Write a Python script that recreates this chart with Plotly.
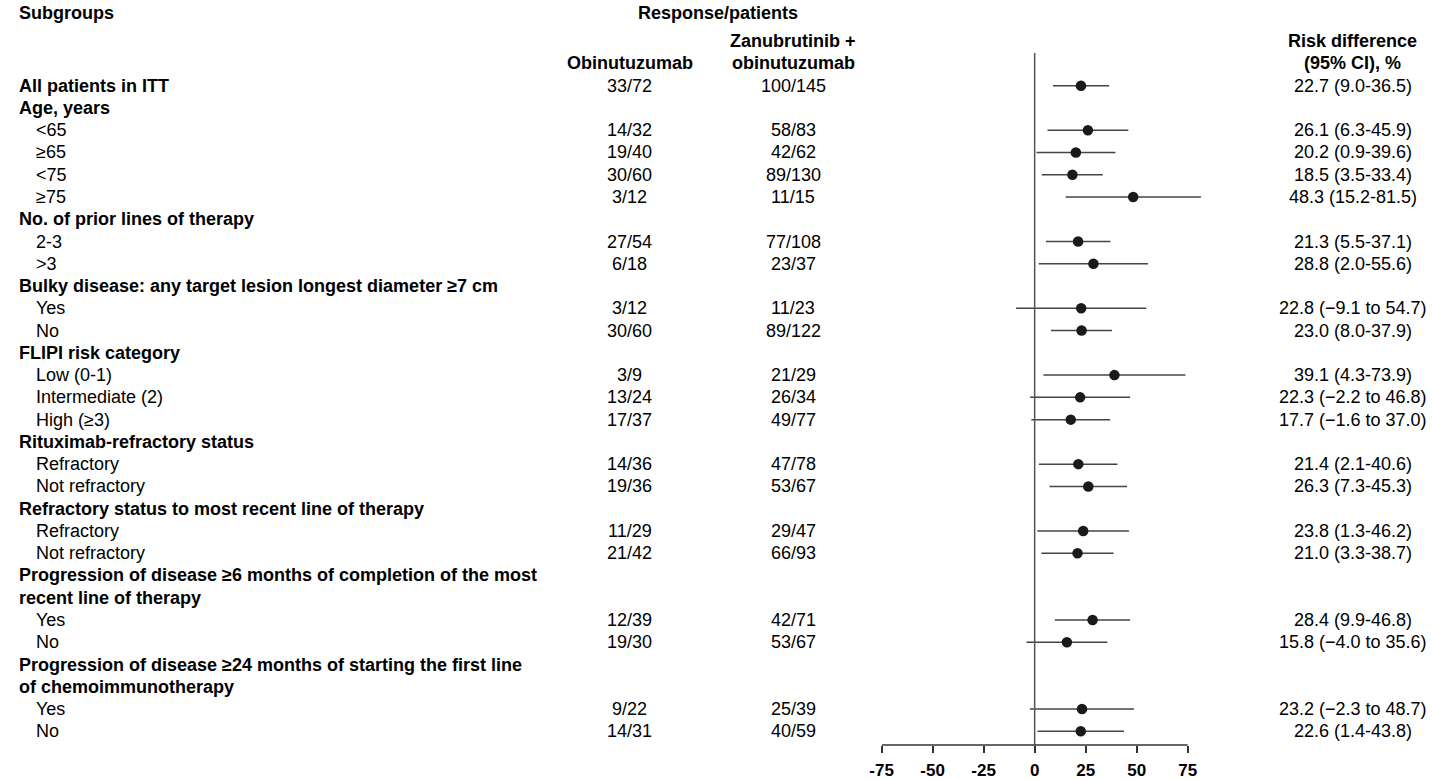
import plotly.graph_objects as go

# ---------------- data ----------------
labels = [
    "All patients in ITT", "Age, years", "<65", "≥65", "<75", "≥75",
    "No. of prior lines of therapy", "2-3", ">3",
    "Bulky disease: any target lesion longest diameter ≥7 cm", "Yes", "No",
    "FLIPI risk category", "Low (0-1)", "Intermediate (2)", "High (≥3)",
    "Rituximab-refractory status", "Refractory", "Not refractory",
    "Refractory status to most recent line of therapy", "Refractory", "Not refractory",
    "Progression of disease ≥6 months of completion of the most", "recent line of therapy",
    "Yes", "No",
    "Progression of disease ≥24 months of starting the first line", "of chemoimmunotherapy",
    "Yes", "No",
]
is_header = [
    True, True, False, False, False, False,
    True, False, False,
    True, False, False,
    True, False, False, False,
    True, False, False,
    True, False, False,
    True, True, False, False,
    True, True, False, False,
]
obin = ["33/72", "", "14/32", "19/40", "30/60", "3/12",
        "", "27/54", "6/18",
        "", "3/12", "30/60",
        "", "3/9", "13/24", "17/37",
        "", "14/36", "19/36",
        "", "11/29", "21/42",
        "", "", "12/39", "19/30",
        "", "", "9/22", "14/31"]
zanu = ["100/145", "", "58/83", "42/62", "89/130", "11/15",
        "", "77/108", "23/37",
        "", "11/23", "89/122",
        "", "21/29", "26/34", "49/77",
        "", "47/78", "53/67",
        "", "29/47", "66/93",
        "", "", "42/71", "53/67",
        "", "", "25/39", "40/59"]
rd_text = ["22.7 (9.0-36.5)", "", "26.1 (6.3-45.9)", "20.2 (0.9-39.6)", "18.5 (3.5-33.4)", "48.3 (15.2-81.5)",
           "", "21.3 (5.5-37.1)", "28.8 (2.0-55.6)",
           "", "22.8 (\u22129.1 to 54.7)", "23.0 (8.0-37.9)",
           "", "39.1 (4.3-73.9)", "22.3 (\u22122.2 to 46.8)", "17.7 (\u22121.6 to 37.0)",
           "", "21.4 (2.1-40.6)", "26.3 (7.3-45.3)",
           "", "23.8 (1.3-46.2)", "21.0 (3.3-38.7)",
           "", "", "28.4 (9.9-46.8)", "15.8 (\u22124.0 to 35.6)",
           "", "", "23.2 (\u22122.3 to 48.7)", "22.6 (1.4-43.8)"]
est = [22.7, None, 26.1, 20.2, 18.5, 48.3,
       None, 21.3, 28.8,
       None, 22.8, 23.0,
       None, 39.1, 22.3, 17.7,
       None, 21.4, 26.3,
       None, 23.8, 21.0,
       None, None, 28.4, 15.8,
       None, None, 23.2, 22.6]
lo = [9.0, None, 6.3, 0.9, 3.5, 15.2,
      None, 5.5, 2.0,
      None, -9.1, 8.0,
      None, 4.3, -2.2, -1.6,
      None, 2.1, 7.3,
      None, 1.3, 3.3,
      None, None, 9.9, -4.0,
      None, None, -2.3, 1.4]
hi = [36.5, None, 45.9, 39.6, 33.4, 81.5,
      None, 37.1, 55.6,
      None, 54.7, 37.9,
      None, 73.9, 46.8, 37.0,
      None, 40.6, 45.3,
      None, 46.2, 38.7,
      None, None, 46.8, 35.6,
      None, None, 48.7, 43.8]
tick_vals = [-75, -50, -25, 0, 25, 50, 75]
tick_text = ["-75", "-50", "-25", "0", "25", "50", "75"]

# ---------------- layout constants ----------------
W, H = 1432, 780
FONT = "Arial, 'Liberation Sans', sans-serif"
FS = 18
X_LEFT, X_INDENT = 5, 22
X_OBIN, X_ZANU, X_RD = 623, 788, 1352


def px(x):
    return x / W


rows = list(range(len(labels)))
pts = [(i, e, l, h) for i, e, l, h in zip(rows, est, lo, hi) if e is not None]
py = [p[0] for p in pts]
pe = [p[1] for p in pts]
plus = [p[3] - p[1] for p in pts]
minus = [p[1] - p[2] for p in pts]

fig = go.Figure()
fig.add_trace(go.Scatter(
    x=pe, y=py, mode="markers",
    marker=dict(size=10.5, color="#1a1a1a"),
    error_x=dict(type="data", symmetric=False, array=plus, arrayminus=minus,
                 color="#444444", thickness=1.5, width=0),
    showlegend=False, hoverinfo="skip",
))

ann = []


def add(text, x, y, anchor="center", bold=False):
    ann.append(dict(
        text=f"<b>{text}</b>" if bold else text,
        x=px(x), y=y, xref="paper", yref="y", xanchor=anchor, yanchor="middle",
        showarrow=False, font=dict(family=FONT, size=FS, color="black"),
    ))


# headers
add("Subgroups", X_LEFT, -3.25, "left", True)
add("Response/patients", 712, -3.25, "center", True)
add("Zanubrutinib +", X_ZANU, -2, "center", True)
add("Obinutuzumab", X_OBIN, -1, "center", True)
add("obinutuzumab", X_ZANU, -1, "center", True)
add("Risk difference", X_RD, -2, "center", True)
add("(95% CI), %", X_RD, -1, "center", True)

for i in rows:
    if is_header[i]:
        add(labels[i], X_LEFT, i, "left", True)
    else:
        add(labels[i], X_INDENT, i, "left", False)
    if obin[i]:
        add(obin[i], X_OBIN, i)
    if zanu[i]:
        add(zanu[i], X_ZANU, i)
    if rd_text[i]:
        add(rd_text[i], X_RD, i)

x_lo, x_hi = -75, 82
dom_l, dom_r = px(877), px(1200)
y_bottom_px = 748
ydom0 = (H - y_bottom_px) / H
row0_px, row_h = 86, 22.35
y_top = -row0_px / row_h
y_bot = (y_bottom_px - row0_px) / row_h

shapes = [
    # zero reference line
    dict(type="line", xref="x", yref="y", x0=0, x1=0, y0=-1.47, y1=y_bot,
         line=dict(color="#555555", width=1.5)),
    # x axis line from -75 to 75
    dict(type="line", xref="x", yref="paper", x0=tick_vals[0], x1=tick_vals[-1],
         y0=ydom0, y1=ydom0, line=dict(color="#333333", width=1.5)),
]

fig.update_layout(
    width=W, height=H,
    margin=dict(l=0, r=0, t=0, b=0),
    paper_bgcolor="white", plot_bgcolor="white",
    annotations=ann, shapes=shapes,
    xaxis=dict(domain=[dom_l, dom_r], range=[x_lo, x_hi], showgrid=False,
               zeroline=False, showline=False, tickmode="array",
               tickvals=tick_vals, ticktext=[f"<b>{t}</b>" for t in tick_text],
               ticks="outside", ticklen=7, tickwidth=1.5, tickcolor="#333333",
               ticklabelstandoff=2,
               tickfont=dict(family=FONT, size=17, color="black")),
    yaxis=dict(domain=[ydom0, 1], range=[y_bot, y_top], visible=False),
    font=dict(family=FONT),
)

fig.write_html("out.html", config={"displayModeBar": False},
               post_script="document.body.style.margin='0';document.body.style.overflow='hidden';")
